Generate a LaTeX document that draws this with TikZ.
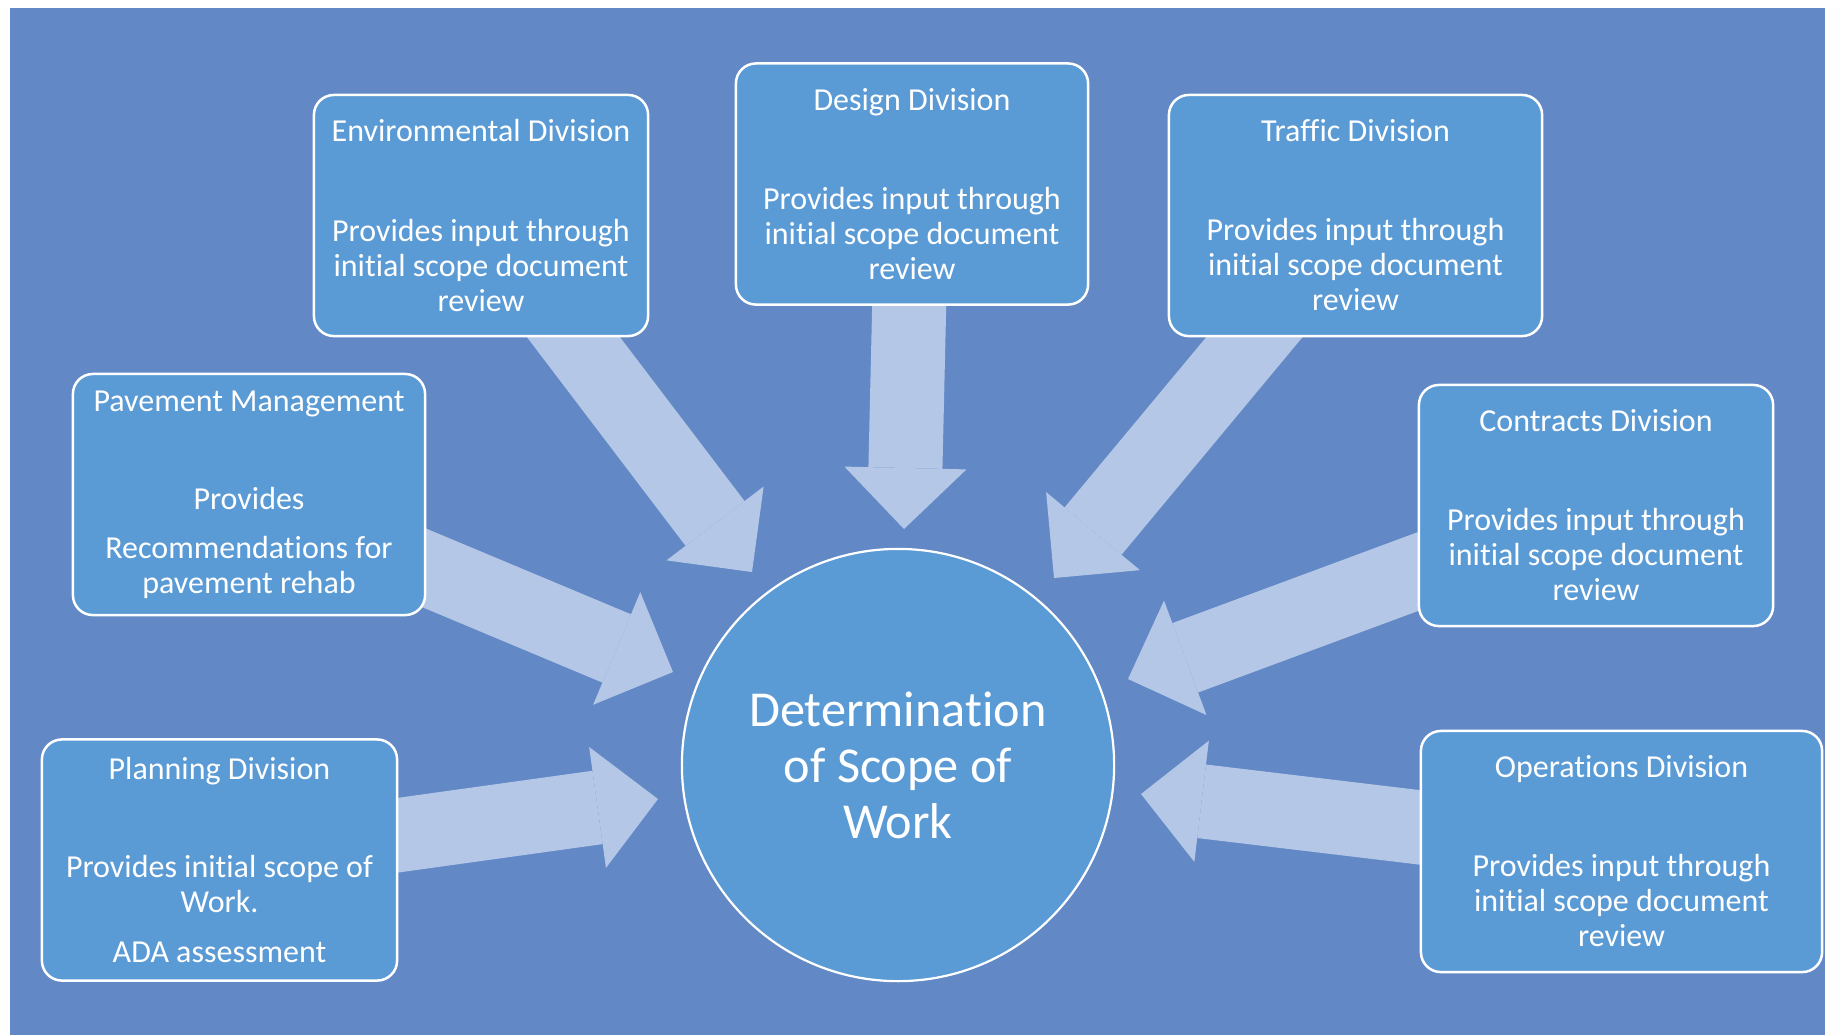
\documentclass[tikz,border=0pt]{standalone}
\usepackage{fontspec}
\setmainfont{Carlito}[Ligatures=NoCommon]
\usepackage{tikz}
\usetikzlibrary{arrows.meta}
\definecolor{slideColor}{RGB}{98,137,197}
\definecolor{boxColor}{RGB}{91,155,213}
\definecolor{arrowColor}{RGB}{180,199,231}
\pgfdeclarelayer{slideLayer}
\pgfdeclarelayer{arrowLayer}
\pgfsetlayers{slideLayer,arrowLayer,main}
\tikzstyle{slide} = [x = .01cm, y = -.01cm]
\tikzstyle{divisionBox} = [draw=white, fill=boxColor, line width=.025cm, rounded corners=.2cm, minimum height=2.41cm, inner sep=0pt, outer sep=0pt, align=center, text=white, font=\fontsize{9.1}{9.96}\selectfont]
\tikzstyle{scopeCircle} = [circle, draw=white, fill=boxColor, line width=.022cm, minimum size=4.32cm, inner sep=0pt, align=center, text=white, font=\fontsize{14.3}{15.93}\selectfont]
\tikzstyle{inputArrow} = [draw=arrowColor, line width=.74cm, -{Triangle[width=1.22cm, length=.61cm, line width=0pt]}]
\newcommand{\titleGap}{.64cm}
\newcommand{\divisionArrow}[2]{\draw [inputArrow] (#1.center) -- (#2);}

\begin{document}
\begin{tikzpicture}[slide]
\useasboundingbox (0,0) rectangle (1825,1035);
\begin{pgfonlayer}{slideLayer}
  \fill [white] (0,0) rectangle (1825,1035);
  \fill [slideColor] (10,8) rectangle (1825,1035);
\end{pgfonlayer}

\node [scopeCircle] (scope) at (898,765) {Determination\\of Scope of\\Work};

\node [divisionBox, minimum width=3.34cm] (env) at (481,215.5) {Environmental Division\\[\titleGap]Provides input through\\initial scope document\\review};
\node [divisionBox, minimum width=3.52cm] (design) at (912,184) {Design Division\\[\titleGap]Provides input through\\initial scope document\\review};
\node [divisionBox, minimum width=3.73cm] (traffic) at (1355.5,215.5) {Traffic Division\\[\titleGap]Provides input through\\initial scope document\\review};
\node [divisionBox, minimum width=3.52cm] (pavement) at (249,494.5) {Pavement Management\\[.63cm]Provides\\[.14cm]Recommendations for\\pavement rehab};
\node [divisionBox, minimum width=3.54cm] (contracts) at (1596,505.5) {Contracts Division\\[\titleGap]Provides input through\\initial scope document\\review};
\node [divisionBox, minimum width=4.01cm] (operations) at (1621.5,851.5) {Operations Division\\[\titleGap]Provides input through\\initial scope document\\review};
\node [divisionBox, minimum width=3.55cm] (planning) at (219.5,860) {Planning Division\\[.63cm]Provides initial scope of\\Work.\\[.15cm]ADA assessment};

\coordinate (envTip) at (752,572);
\coordinate (designTip) at (904,529);
\coordinate (trafficTip) at (1054,578);
\coordinate (pavementTip) at (673,672);
\coordinate (contractsTip) at (1128,679);
\coordinate (operationsTip) at (1141,794);
\coordinate (planningTip) at (658,799);

\begin{pgfonlayer}{arrowLayer}
  \foreach \division in {env,design,traffic,pavement,contracts,operations,planning} {
    \divisionArrow{\division}{\division Tip}
  }
\end{pgfonlayer}
\end{tikzpicture}
\end{document}
